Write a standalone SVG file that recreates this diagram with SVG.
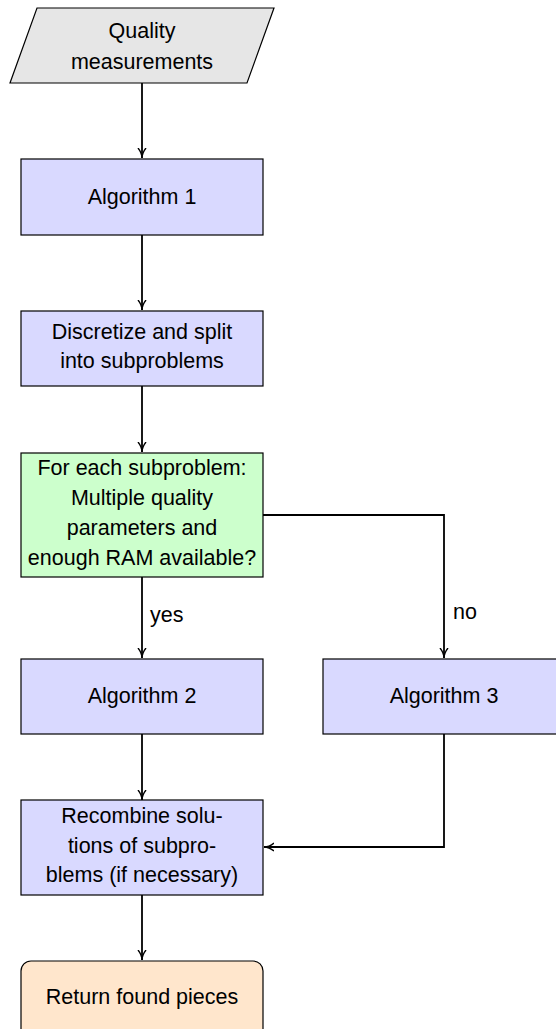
<svg xmlns="http://www.w3.org/2000/svg" width="556" height="1029" viewBox="0 0 556 1029">
<defs>
<marker id="arr" viewBox="0 0 10 10" refX="10" refY="5" markerWidth="10" markerHeight="10" markerUnits="userSpaceOnUse" orient="auto">
<path d="M0,1 Q5,5 10,5 Q5,5 0,9" fill="none" stroke="#000" stroke-width="1.4"/>
</marker>
<style>
.n{stroke:#000;stroke-width:1.2}
.blue{fill:#d9d9ff}
.t{font-family:"Liberation Sans",Arial,sans-serif;font-size:21.5px;fill:#000;text-anchor:middle}
.l{font-family:"Liberation Sans",Arial,sans-serif;font-size:21.5px;fill:#000}
.c{fill:none;stroke:#000;stroke-width:1.8}
</style>
</defs>
<g id="connectors">
<path class="c" d="M142,83 V158" marker-end="url(#arr)"/>
<path class="c" d="M142,235 V310" marker-end="url(#arr)"/>
<path class="c" d="M142,386 V452" marker-end="url(#arr)"/>
<path class="c" d="M142,577 V658" marker-end="url(#arr)"/>
<path class="c" d="M263,515 H444 V658" marker-end="url(#arr)"/>
<path class="c" d="M142,734 V800" marker-end="url(#arr)"/>
<path class="c" d="M444,734 V847 H264" marker-end="url(#arr)"/>
<path class="c" d="M142,895 V960" marker-end="url(#arr)"/>
<text class="l" x="150" y="622">yes</text>
<text class="l" x="453" y="619">no</text>
</g>
<g id="input">
<path class="n" d="M37,8 H274 L247,83 H10 Z" fill="#e6e6e6"/>
<text class="t" x="142" y="38">Quality</text>
<text class="t" x="142" y="69">measurements</text>
</g>
<g id="alg1">
<rect class="n blue" x="21" y="159" width="242" height="76"/>
<text class="t" x="142" y="204">Algorithm 1</text>
</g>
<g id="discretize">
<rect class="n blue" x="21" y="311" width="242" height="75"/>
<text class="t" x="142" y="339">Discretize and split</text>
<text class="t" x="142" y="368">into subproblems</text>
</g>
<g id="decision">
<rect class="n" x="21" y="453" width="242" height="124" fill="#ccffcc"/>
<text class="t" x="142" y="475">For each subproblem:</text>
<text class="t" x="142" y="505">Multiple quality</text>
<text class="t" x="142" y="535">parameters and</text>
<text class="t" x="142" y="565">enough RAM available?</text>
</g>
<g id="alg2">
<rect class="n blue" x="21" y="659" width="242" height="75"/>
<text class="t" x="142" y="703">Algorithm 2</text>
</g>
<g id="alg3">
<rect class="n blue" x="323" y="659" width="242" height="75"/>
<text class="t" x="444" y="703">Algorithm 3</text>
</g>
<g id="recombine">
<rect class="n blue" x="21" y="800" width="242" height="95"/>
<text class="t" x="142" y="823">Recombine solu-</text>
<text class="t" x="142" y="853">tions of subpro-</text>
<text class="t" x="142" y="882">blems (if necessary)</text>
</g>
<g id="return">
<rect class="n" x="21" y="961" width="242" height="100" rx="10" fill="#ffe6cc"/>
<text class="t" x="142" y="1004">Return found pieces</text>
</g>
</svg>
